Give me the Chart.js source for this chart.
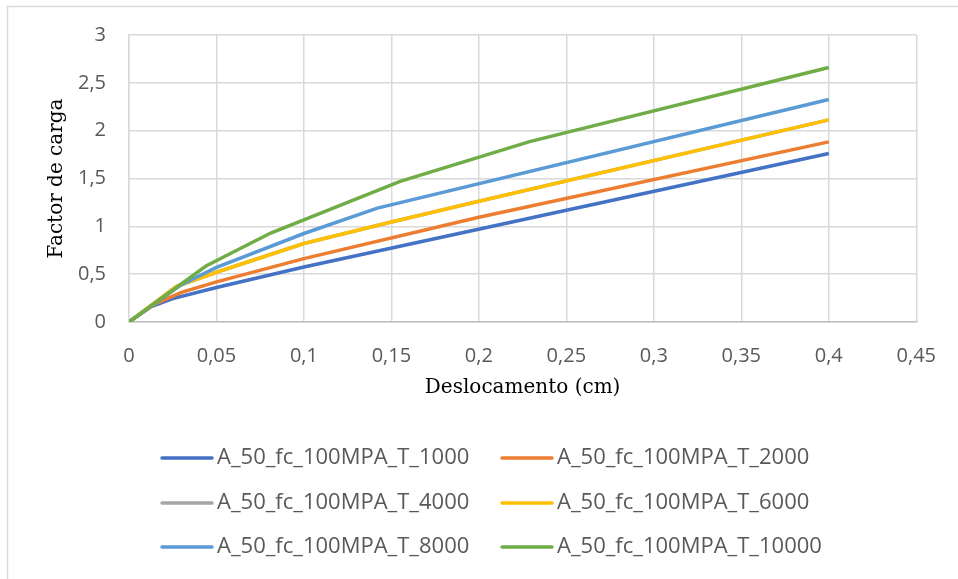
<!DOCTYPE html>
<html>
<head>
<meta charset="utf-8">
<title>Factor de carga x Deslocamento</title>
<script src="https://cdn.jsdelivr.net/npm/chart.js@4"></script>
<style>
    html, body { margin: 0; padding: 0; background: #ffffff; }
    #wrap { width: 958px; height: 579px; }
</style>
</head>
<body>
<div id="wrap"><canvas id="curveChart" width="958" height="579"></canvas></div>
<script>
// Series names (legend order)
const seriesNames = [
    'A_50_fc_100MPA_T_1000',
    'A_50_fc_100MPA_T_2000',
    'A_50_fc_100MPA_T_4000',
    'A_50_fc_100MPA_T_6000',
    'A_50_fc_100MPA_T_8000',
    'A_50_fc_100MPA_T_10000'
];
const seriesColors = ['#4472C4', '#ED7D31', '#A5A5A5', '#FFC000', '#5B9BD5', '#70AD47'];

// Displacement (cm) and load factor for each run
const dispT1000 = [0, 0.012, 0.025, 0.05, 0.1, 0.4];
const loadT1000 = [0, 0.155, 0.245, 0.36, 0.575, 1.762];

const dispT2000 = [0, 0.015, 0.03, 0.05, 0.1, 0.2, 0.4];
const loadT2000 = [0, 0.19, 0.31, 0.42, 0.663, 1.095, 1.883];

const dispT4000 = [0, 0.027, 0.05, 0.1, 0.15, 0.2, 0.4];
const loadT4000 = [0, 0.37, 0.52, 0.82, 1.045, 1.262, 2.113];

const dispT6000 = [0, 0.027, 0.05, 0.1, 0.15, 0.2, 0.4];
const loadT6000 = [0, 0.37, 0.52, 0.82, 1.045, 1.262, 2.113];

const dispT8000 = [0, 0.03, 0.05, 0.1, 0.142, 0.4];
const loadT8000 = [0, 0.39, 0.57, 0.925, 1.19, 2.326];

const dispT10000 = [0, 0.044, 0.081, 0.155, 0.229, 0.4];
const loadT10000 = [0, 0.585, 0.93, 1.47, 1.885, 2.66];

const allDisp = [dispT1000, dispT2000, dispT4000, dispT6000, dispT8000, dispT10000];
const allLoad = [loadT1000, loadT2000, loadT4000, loadT6000, loadT8000, loadT10000];

// Axis ranges / ticks
const xMin = 0, xMax = 0.45, xStep = 0.05;
const yMin = 0, yMax = 3, yStep = 0.5;

const tickFont = { family: '"Open Sans", sans-serif', size: 20 };
const titleFont = { family: '"DejaVu Serif", serif', size: 20 };
const gridColor = '#d9d9d9';

// comma decimal separator
function fmt(v) {
    return String(Number(v.toFixed(2))).replace('.', ',');
}

const datasets = seriesNames.map((name, i) => ({
    label: name,
    data: allDisp[i].map((x, k) => ({ x: x, y: allLoad[i][k] })),
    borderColor: seriesColors[i],
    backgroundColor: seriesColors[i],
    borderWidth: 3.5,
    pointRadius: 0,
    tension: 0,
    fill: false,
    order: seriesNames.length - i // later series on top
}));

// white background + thin frame on left/top edge
const framePlugin = {
    id: 'frame',
    beforeDraw(chart) {
        const ctx = chart.ctx;
        ctx.save();
        ctx.fillStyle = '#ffffff';
        ctx.fillRect(0, 0, chart.width, chart.height);
        ctx.strokeStyle = '#d9d9d9';
        ctx.lineWidth = 1.5;
        ctx.strokeRect(7.5, 6.5, chart.width + 20, chart.height + 20);
        ctx.restore();
    }
};

// Two-column legend under the axis title
const legendPlugin = {
    id: 'twoColLegend',
    afterDraw(chart) {
        const ctx = chart.ctx;
        const colX = [160, 500];
        const rowY = [458, 503, 547];
        ctx.save();
        ctx.font = '22px "Open Sans", sans-serif';
        ctx.textBaseline = 'middle';
        ctx.fillStyle = '#595959';
        chart.data.datasets.forEach((ds, i) => {
            const x = colX[i % 2];
            const y = rowY[Math.floor(i / 2)];
            ctx.strokeStyle = ds.borderColor;
            ctx.lineWidth = 3.5;
            ctx.lineCap = 'round';
            ctx.beginPath();
            ctx.moveTo(x + 2, y);
            ctx.lineTo(x + 52, y);
            ctx.stroke();
            ctx.fillText(ds.label, x + 57, y);
        });
        ctx.restore();
    }
};

const ctx = document.getElementById('curveChart').getContext('2d');
const chart = new Chart(ctx, {
    type: 'line',
    data: { datasets: datasets },
    plugins: [framePlugin, legendPlugin],
    options: {
        responsive: false,
        animation: false,
        devicePixelRatio: 1,
        layout: { padding: { left: 0, top: 35, right: 41, bottom: 177 } },
        plugins: {
            legend: { display: false },
            tooltip: { enabled: false }
        },
        scales: {
            x: {
                type: 'linear',
                min: xMin,
                max: xMax,
                afterFit(scale) { scale.height = 80; },
                ticks: {
                    stepSize: xStep,
                    font: tickFont,
                    color: '#595959',
                    padding: 22,
                    maxRotation: 0,
                    callback: (v) => fmt(v)
                },
                grid: { color: gridColor, lineWidth: 1.5, drawTicks: false },
                border: { color: '#bfbfbf', width: 1.5 },
                title: {
                    display: true,
                    text: 'Deslocamento (cm)',
                    font: titleFont,
                    color: '#000000',
                    padding: { top: 0, bottom: 2 }
                }
            },
            y: {
                type: 'linear',
                min: yMin,
                max: yMax,
                afterFit(scale) { scale.width = 129; },
                ticks: {
                    stepSize: yStep,
                    font: tickFont,
                    color: '#595959',
                    padding: 23,
                    callback: (v) => fmt(v)
                },
                grid: { color: gridColor, lineWidth: 1.5, drawTicks: false },
                border: { color: gridColor, width: 1.5 },
                title: {
                    display: true,
                    text: 'Factor de carga',
                    font: titleFont,
                    color: '#000000',
                    padding: { top: 45, bottom: 0 }
                }
            }
        }
    }
});
</script>
</body>
</html>
